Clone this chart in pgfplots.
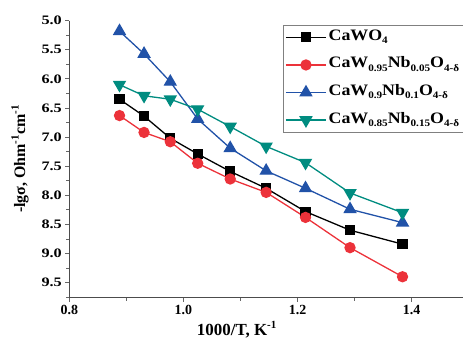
\documentclass[border=0pt]{standalone}
\usepackage{fontspec}
\setmainfont{Liberation Serif}
\newfontfamily\wideA[FakeStretch=1.25]{Liberation Serif}
\newfontfamily\wideB[FakeStretch=1.12]{Liberation Serif}
\usepackage{pgfplots}
\pgfplotsset{compat=1.18}
\definecolor{cred}{RGB}{236,50,58}
\definecolor{cblue}{RGB}{33,82,168}
\definecolor{cteal}{RGB}{0,140,128}
\newcommand{\mysub}[1]{\raisebox{-0.45ex}{\fontsize{10}{10}\selectfont #1}}
\newcommand{\mysup}[1]{\raisebox{0.9ex}{\fontsize{11}{11}\selectfont #1}}
\begin{document}
\begin{tikzpicture}
\begin{axis}[
  scale only axis, width=393.7bp, height=277bp,
  xmin=0.8, xmax=1.49, ymin=5, ymax=9.76, y dir=reverse,
  axis x line=bottom, axis y line=left,
  axis line style={-, draw=black!70, line width=0.8bp},
  xtick={0.8,1.0,1.2,1.4}, minor xtick={0.9,1.1,1.3},
  ytick={5.0,5.5,6.0,6.5,7.0,7.5,8.0,8.5,9.0,9.5},
  minor ytick={5.25,5.75,6.25,6.75,7.25,7.75,8.25,8.75,9.25,9.75},
  tick align=outside, major tick length=4bp, minor tick length=3bp,
  tick style={draw=black!60, line width=0.8bp},
  /pgf/number format/assume math mode=true,
  xticklabel style={font=\bfseries\fontsize{14}{14}\selectfont, /pgf/number format/.cd, fixed, fixed zerofill, precision=1},
  yticklabel style={font=\wideA\bfseries\fontsize{13}{13}\selectfont, /pgf/number format/.cd, fixed, fixed zerofill, precision=1},
  xlabel={1000/T, K\mysup{-1}},
  ylabel={-lgσ, Ohm\mysup{-1}cm\mysup{-1}},
  xlabel style={font=\bfseries\fontsize{17}{17}\selectfont, at={(axis description cs:0.425,-0.117)}, anchor=center},
  ylabel style={font=\bfseries\fontsize{16}{16}\selectfont, at={(axis description cs:-0.125,0.5)}, anchor=center},
  clip=false,
  legend cell align=left,
  legend image code/.code={\draw[mark repeat=2,mark phase=2] plot coordinates {(0bp,0bp) (20bp,0bp) (40bp,0bp)};},
  legend style={draw=black!50, line width=0.5bp, at={(axis description cs:0.543,0.984)}, anchor=north west,
    font=\wideB\bfseries\fontsize{16}{16}\selectfont, row sep=7.6bp, inner sep=2bp,
    nodes={text height=11bp, text depth=5bp}},
]
\coordinate (bl) at (rel axis cs:0,0);
\coordinate (tr) at (rel axis cs:1,1);
\addplot[black, line width=1.3bp, mark=square*, mark size=4.4bp] coordinates {
(0.888,6.35) (0.931,6.64) (0.977,7.02) (1.025,7.29) (1.082,7.59) (1.145,7.88) (1.214,8.28) (1.292,8.60) (1.384,8.84)};
\addlegendentry{CaWO\mysub{4}}
\addplot[cred, line width=1.3bp, mark=*, mark size=5bp] coordinates {
(0.888,6.63) (0.931,6.92) (0.977,7.08) (1.025,7.45) (1.082,7.72) (1.145,7.95) (1.214,8.38) (1.292,8.90) (1.384,9.40)};
\addlegendentry{CaW\mysub{0.95}Nb\mysub{0.05}O\mysub{4-δ}}
\addplot[cblue, line width=1.3bp, mark=triangle*, mark size=6.5bp] coordinates {
(0.888,5.18) (0.931,5.57) (0.977,6.05) (1.025,6.69) (1.082,7.19) (1.145,7.58) (1.214,7.88) (1.292,8.24) (1.384,8.47)};
\addlegendentry{CaW\mysub{0.9}Nb\mysub{0.1}O\mysub{4-δ}}
\addplot[cteal, line width=1.3bp, mark=triangle*, mark size=6.5bp, mark options={rotate=180}] coordinates {
(0.888,6.10) (0.931,6.29) (0.977,6.35) (1.025,6.52) (1.082,6.82) (1.145,7.16) (1.214,7.44) (1.292,7.96) (1.384,8.30)};
\addlegendentry{CaW\mysub{0.85}Nb\mysub{0.15}O\mysub{4-δ}}
\end{axis}
\pgfresetboundingbox
\path ([shift={(-69.3bp,-41.3bp)}]bl) rectangle ([shift={(0bp,20.7bp)}]tr);
\end{tikzpicture}
\end{document}
